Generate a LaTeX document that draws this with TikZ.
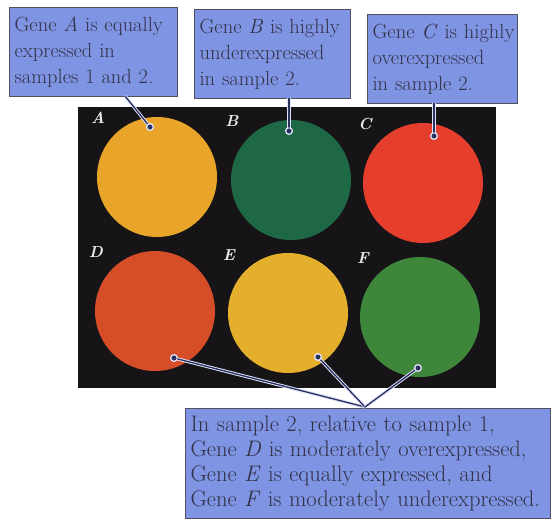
\documentclass[tikz,border=0pt]{standalone}
\usepackage{xcolor}
\definecolor{boxfill}{RGB}{128,148,228}
\definecolor{boxline}{RGB}{80,80,95}
\definecolor{txt}{RGB}{50,50,70}
\definecolor{plate}{RGB}{22,20,22}
\definecolor{cA}{RGB}{232,165,42}
\definecolor{cB}{RGB}{30,104,70}
\definecolor{cC}{RGB}{230,62,45}
\definecolor{cD}{RGB}{214,78,40}
\definecolor{cE}{RGB}{228,175,45}
\definecolor{cF}{RGB}{62,134,58}
\definecolor{conncol}{RGB}{40,50,90}
\tikzset{
  calloutbox/.style={draw=boxline, line width=1.2pt, fill=boxfill, text=txt, align=left,
    anchor=north west, inner xsep=5pt, inner ysep=4pt, font=\fontsize{20.5}{26}\selectfont},
  spot/.style={circle, minimum size=120pt, inner sep=0pt},
  spotlabel/.style={text=white!92!black, font=\bfseries\itshape\fontsize{16}{16}\selectfont},
  pin/.style={circle, fill=conncol, draw=white!90!blue, line width=0.9pt, minimum size=7pt, inner sep=0pt},
  conn/.style={draw=conncol, line width=1.3pt, preaction={draw=white!88!blue, line width=3.2pt}},
}
\begin{document}
\begin{tikzpicture}[x=1pt,y=-1pt]
\useasboundingbox (0,0) rectangle (557,523);
\fill[white] (0,0) rectangle (557,523);
% plate
\fill[plate] (78,107) rectangle (496,388);
% spots
\node[spot, fill=cA] (A) at (157,177) {};
\node[spot, fill=cB] (B) at (291,180) {};
\node[spot, fill=cC] (C) at (423,183) {};
\node[spot, fill=cD] (D) at (155,311) {};
\node[spot, fill=cE] (E) at (288,313) {};
\node[spot, fill=cF] (F) at (420,317) {};
% letters
\node[spotlabel] (lA) at (98,118) {A};
\node[spotlabel] (lB) at (232,121) {B};
\node[spotlabel] (lC) at (365,124) {C};
\node[spotlabel] (lD) at (96,252) {D};
\node[spotlabel] (lE) at (229,255) {E};
\node[spotlabel] (lF) at (363,258) {F};
% boxes
\node[calloutbox, minimum width=168pt, minimum height=89pt, text width=158pt] (bA) at (9,7)
  {\mbox{Gene \textit{A} is equally}\\expressed in\\samples 1 and 2.};
\node[calloutbox, minimum width=156pt, minimum height=89pt, text width=146pt] (bB) at (194,9)
  {\mbox{Gene \textit{B} is highly}\\underexpressed\\in sample 2.};
\node[calloutbox, minimum width=150pt, minimum height=89pt, text width=140pt] (bC) at (367,14)
  {\mbox{Gene \textit{C} is highly}\\overexpressed\\in sample 2.};
\node[calloutbox, minimum width=365pt, minimum height=110pt, text width=355pt,
  font=\fontsize{22.5}{25}\selectfont] (bD) at (185,408)
  {In sample 2, relative to sample 1,\\\mbox{Gene \textit{D} is moderately overexpressed,}\\Gene \textit{E} is equally expressed, and\\\mbox{Gene \textit{F} is moderately underexpressed.}};
% pins
\node[pin] (pA) at (150,127) {};
\node[pin] (pB) at (289,131) {};
\node[pin] (pC) at (434,136) {};
\node[pin] (pD) at (174,358) {};
\node[pin] (pE) at (318,357) {};
\node[pin] (pF) at (418,368) {};
% connector ends
\coordinate (tA) at (125,96);
\coordinate (tB) at (289,98);
\coordinate (tC) at (434,103);
\coordinate (tD) at (365,407);
% connectors
\draw[conn] (tA) -- (pA.center);
\draw[conn] (tB) -- (pB.center);
\draw[conn] (tC) -- (pC.center);
\draw[conn] (pD.center) -- (tD);
\draw[conn] (pE.center) -- (tD);
\draw[conn] (pF.center) -- (tD);
% redraw pins on top
\foreach \p in {pA,pB,pC,pD,pE,pF}
  \fill[conncol] (\p) circle (2.6pt);
\foreach \p in {pA,pB,pC,pD,pE,pF}
  \draw[white!90!blue, line width=0.9pt] (\p) circle (3.2pt);
\end{tikzpicture}
\end{document}
